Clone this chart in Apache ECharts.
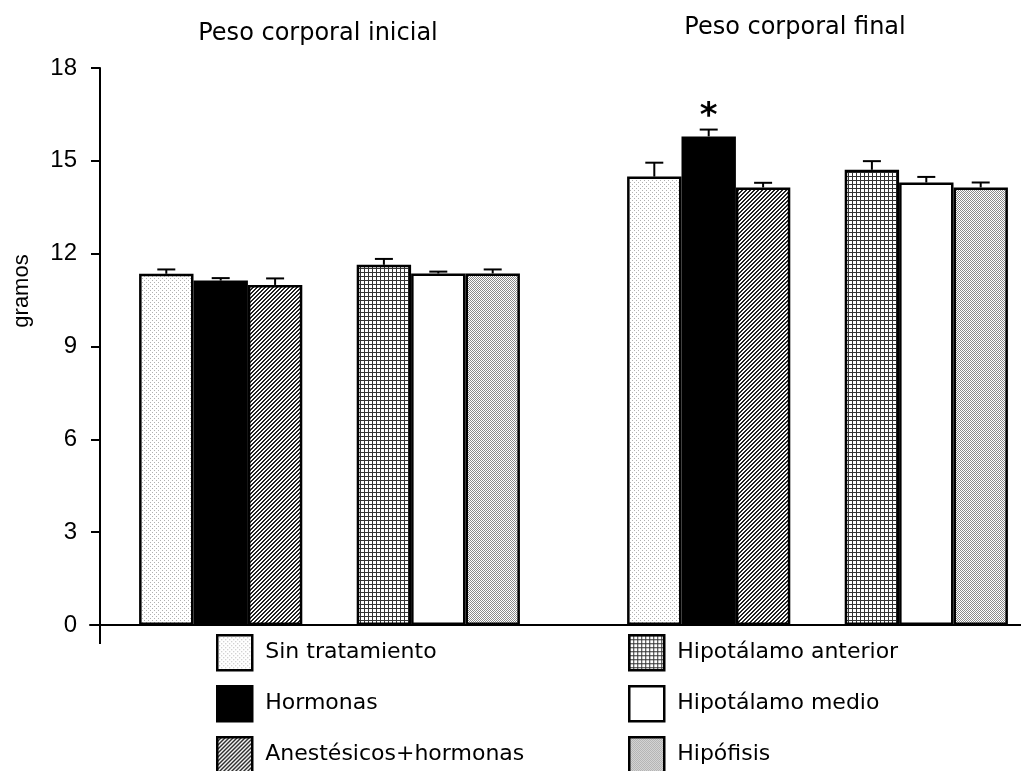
<!DOCTYPE html>
<html>
<head>
<meta charset="utf-8">
<script src="https://cdn.jsdelivr.net/npm/echarts@6/dist/echarts.min.js"></script>
<style>
  html, body { margin: 0; padding: 0; background: #fff; }
  #chart { width: 1021px; height: 771px; }
</style>
</head>
<body>
<div id="chart"></div>
<script>
// data
var groups = ['Peso corporal inicial', 'Peso corporal final'];
var treatments = ['Sin tratamiento', 'Hormonas', 'Anestésicos+hormonas',
                  'Hipotálamo anterior', 'Hipotálamo medio', 'Hipófisis'];
var means = [
  [11.35, 14.49],   // Sin tratamiento
  [11.13, 15.79],   // Hormonas
  [10.99, 14.14],   // Anestésicos+hormonas
  [11.64, 14.71],   // Hipotálamo anterior
  [11.36, 14.30],   // Hipotálamo medio
  [11.36, 14.14]    // Hipófisis
];
var errors = [
  [0.14, 0.45],
  [0.08, 0.22],
  [0.21, 0.15],
  [0.19, 0.28],
  [0.06, 0.18],
  [0.13, 0.16]
];
var significant = [
  [false, false],
  [false, true],
  [false, false],
  [false, false],
  [false, false],
  [false, false]
];
var yTicks = [0, 3, 6, 9, 12, 15, 18];

// fill patterns
function makePattern(size, bg, fg, pixels) {
  var c = document.createElement('canvas');
  c.width = size; c.height = size;
  var ctx = c.getContext('2d');
  ctx.fillStyle = bg;
  ctx.fillRect(0, 0, size, size);
  ctx.fillStyle = fg;
  pixels.forEach(function (p) { ctx.fillRect(p[0], p[1], 1, 1); });
  return { image: c, repeat: 'repeat' };
}
var fills = [
  makePattern(4, '#fff', '#b0b0b0', [[0,0],[2,2]]),
  '#000',
  makePattern(4, '#fff', '#222', [[0,3],[1,2],[2,1],[3,0],[0,0],[1,3],[2,2],[3,1]]),
  makePattern(4, '#fff', '#333', [[0,0],[1,0],[2,0],[3,0],[0,1],[0,2],[0,3]]),
  '#fff',
  makePattern(2, '#fff', '#8a8a8a', [[0,0],[1,1]])
];

// slot layout: 3 bars, a gap, 3 bars
var slots = [0, 1, 2, 4, 5, 6];
var nSlots = 7;
var barFrac = 54.4 / 488;

var series = [];
var s, i;
for (s = 0; s < treatments.length; s++) {
  if (s === 3) {
    series.push({
      name: 'gap', type: 'bar', xAxisIndex: 0, yAxisIndex: 0,
      barWidth: (barFrac * 100) + '%', barGap: '0%',
      data: ['-', '-']
    });
  }
  var d = [];
  for (i = 0; i < groups.length; i++) {
    var item = { value: means[s][i] };
    if (significant[s][i]) {
      item.label = {
        show: true, position: 'top', formatter: '*', distance: 2,
        fontSize: 34, fontWeight: 'bold', color: '#000', fontFamily: 'DejaVu Sans'
      };
    }
    d.push(item);
  }
  series.push({
    name: treatments[s], type: 'bar', xAxisIndex: 0, yAxisIndex: 0,
    barWidth: (barFrac * 100) + '%', barGap: '0%',
    itemStyle: { color: fills[s], borderColor: '#000', borderWidth: 2.5 },
    emphasis: { disabled: true },
    data: d
  });
}

// error bars (upper whisker only)
var errData = [];
for (s = 0; s < treatments.length; s++) {
  for (i = 0; i < groups.length; i++) {
    errData.push([i, means[s][i], errors[s][i], slots[s]]);
  }
}
series.push({
  type: 'custom', xAxisIndex: 0, yAxisIndex: 0, z: 1,
  data: errData,
  renderItem: function (params, api) {
    var cat = api.value(0), m = api.value(1), e = api.value(2), slot = api.value(3);
    var catW = api.size([1, 0])[0];
    var bw = catW * barFrac;
    var cx = api.coord([cat, 0])[0] + (slot - (nSlots - 1) / 2) * bw;
    var yTop = api.coord([cat, m])[1];
    var yErr = api.coord([cat, m + e])[1];
    var st = { stroke: '#000', lineWidth: 2 };
    return {
      type: 'group',
      children: [
        { type: 'line', shape: { x1: cx, y1: yTop, x2: cx, y2: yErr }, style: st },
        { type: 'line', shape: { x1: cx - 9, y1: yErr, x2: cx + 9, y2: yErr }, style: st }
      ]
    };
  }
});

// one legend block per entry
var legendPos = [
  [216, 634], [216, 685], [216, 736],
  [628, 634], [628, 685], [628, 736]
];
var legends = treatments.map(function (name, k) {
  return {
    data: [name], left: legendPos[k][0], top: legendPos[k][1], padding: 0,
    itemWidth: 35, itemHeight: 35, icon: 'rect', selectedMode: false,
    itemStyle: { borderColor: '#000', borderWidth: 2.5 },
    textStyle: { fontFamily: 'DejaVu Sans', fontSize: 22, color: '#000', padding: [2, 0, 0, 8] }
  };
});

var chart = echarts.init(document.getElementById('chart'));
chart.setOption({
  animation: false,
  backgroundColor: '#fff',
  title: [
    { text: groups[0], left: 313, top: 17, textAlign: 'center',
      textStyle: { fontFamily: 'DejaVu Sans', fontWeight: 'normal', fontSize: 24, color: '#000' } },
    { text: groups[1], left: 790, top: 11, textAlign: 'center',
      textStyle: { fontFamily: 'DejaVu Sans', fontWeight: 'normal', fontSize: 24, color: '#000' } }
  ],
  legend: legends,
  graphic: [
    { type: 'text', x: 22, y: 291, rotation: Math.PI / 2,
      style: { text: 'gramos', font: '22px "Liberation Sans"', fill: '#000',
               textAlign: 'center', textVerticalAlign: 'middle' } },
    { type: 'line', shape: { x1: 100, y1: 625, x2: 100, y2: 644 },
      style: { stroke: '#000', lineWidth: 2 } }
  ],
  grid: [
    { left: 85.5, width: 976, top: 68, bottom: 146, outerBoundsMode: 'none' },
    { left: 90, right: 0, top: 68, bottom: 146 }
  ],
  xAxis: [
    { type: 'category', gridIndex: 0, data: groups,
      axisLine: { show: false }, axisTick: { show: false }, axisLabel: { show: false } },
    { type: 'value', gridIndex: 1, min: 0, max: 1,
      axisLine: { show: true, lineStyle: { color: '#000', width: 2 } },
      axisTick: { show: false }, axisLabel: { show: false }, splitLine: { show: false } }
  ],
  yAxis: [
    { type: 'value', gridIndex: 0, min: 0, max: 18, show: false },
    { type: 'value', gridIndex: 1, min: yTicks[0], max: yTicks[yTicks.length - 1], interval: 3,
      offset: -10,
      axisLine: { show: true, lineStyle: { color: '#000', width: 2 } },
      axisTick: { show: true, length: 9, lineStyle: { color: '#000', width: 2 } },
      axisLabel: { margin: 23, fontFamily: '"Liberation Sans", Arial, sans-serif', fontSize: 24, color: '#000' },
      splitLine: { show: false } }
  ],
  series: series
});
</script>
</body>
</html>
